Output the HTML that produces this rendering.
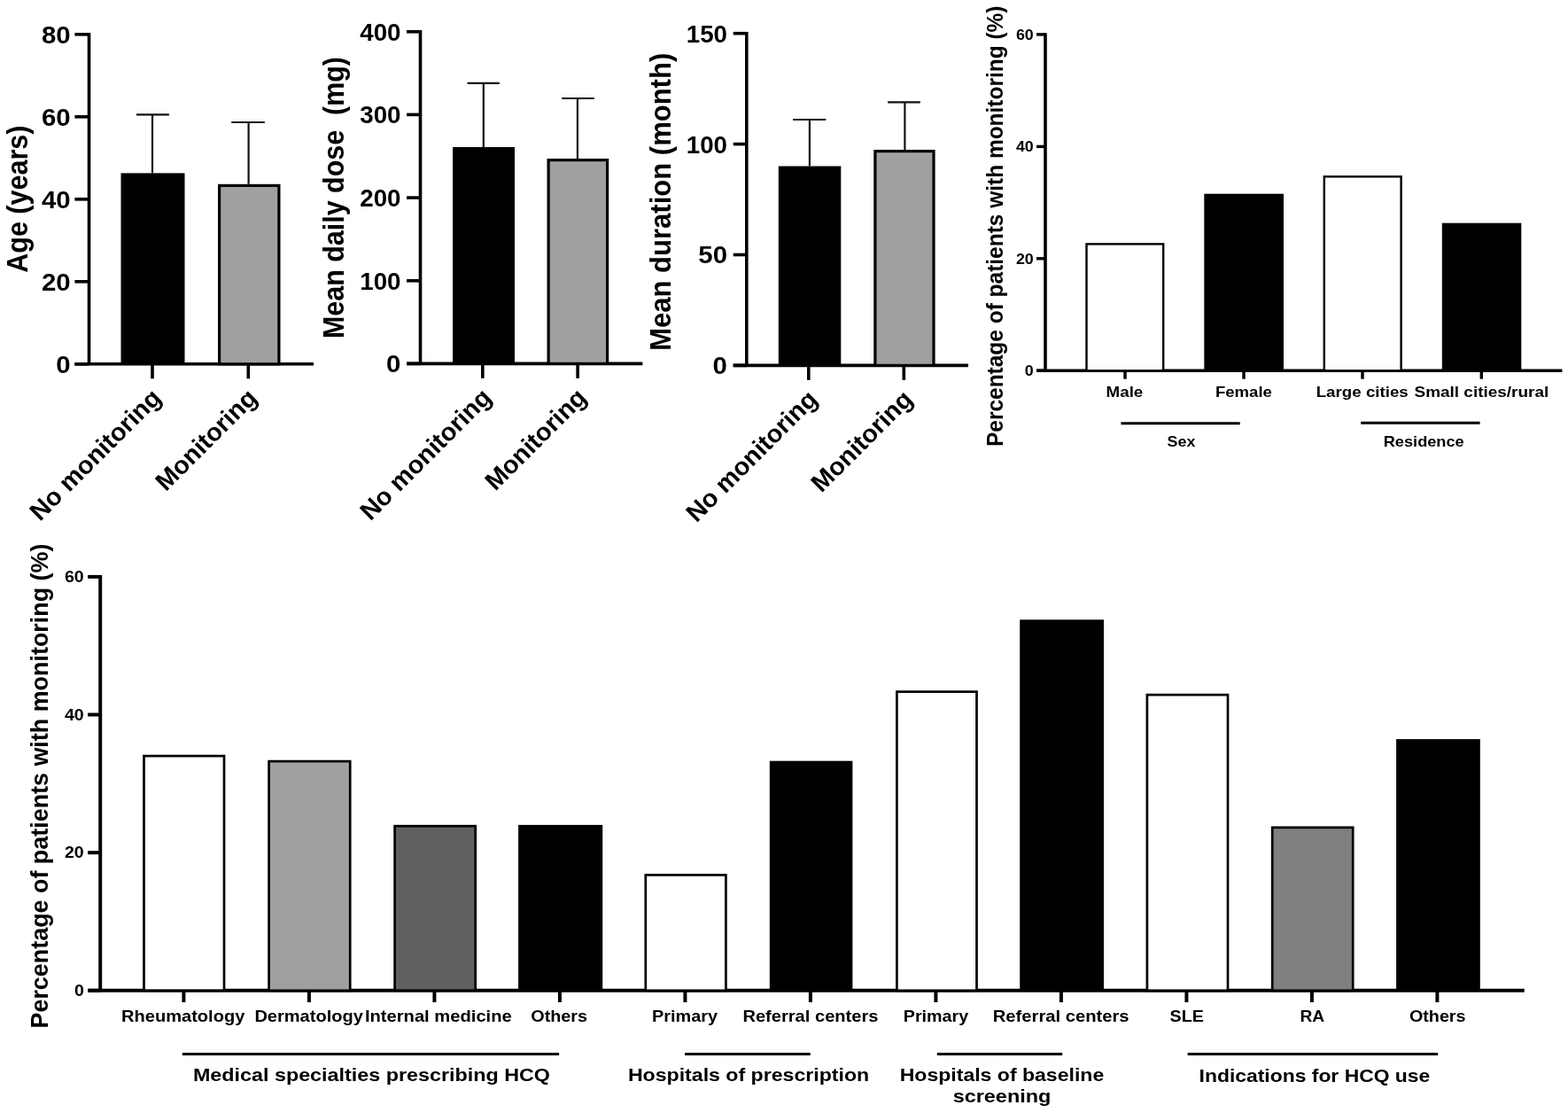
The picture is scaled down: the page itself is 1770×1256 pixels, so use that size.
<!DOCTYPE html>
<html><head><meta charset="utf-8"><title>Figure</title>
<style>html,body{margin:0;padding:0;background:#fff;overflow:hidden;}svg{display:block;}</style>
</head><body>
<svg width="1770" height="1256" viewBox="0 0 1770 1256" font-family="Liberation Sans, Arial, Helvetica, sans-serif" font-weight="bold">
<rect width="1770" height="1256" fill="#fff"/>
<line x1="84.4" y1="410.8" x2="354.0" y2="410.8" stroke="#000" stroke-width="3.6" stroke-linecap="butt"/>
<line x1="100.5" y1="37.0" x2="100.5" y2="410.8" stroke="#000" stroke-width="3.6" stroke-linecap="butt"/>
<line x1="84.4" y1="38.8" x2="100.5" y2="38.8" stroke="#000" stroke-width="3.6" stroke-linecap="butt"/>
<text x="46.94" y="48.73" font-size="28" textLength="32.70" lengthAdjust="spacingAndGlyphs">80</text>
<line x1="84.4" y1="131.8" x2="100.5" y2="131.8" stroke="#000" stroke-width="3.6" stroke-linecap="butt"/>
<text x="46.94" y="141.73" font-size="28" textLength="32.70" lengthAdjust="spacingAndGlyphs">60</text>
<line x1="84.4" y1="224.8" x2="100.5" y2="224.8" stroke="#000" stroke-width="3.6" stroke-linecap="butt"/>
<text x="46.94" y="234.73" font-size="28" textLength="32.70" lengthAdjust="spacingAndGlyphs">40</text>
<line x1="84.4" y1="317.8" x2="100.5" y2="317.8" stroke="#000" stroke-width="3.6" stroke-linecap="butt"/>
<text x="46.94" y="327.73" font-size="28" textLength="32.70" lengthAdjust="spacingAndGlyphs">20</text>
<line x1="84.4" y1="410.8" x2="100.5" y2="410.8" stroke="#000" stroke-width="3.6" stroke-linecap="butt"/>
<text x="63.22" y="420.73" font-size="28" textLength="16.35" lengthAdjust="spacingAndGlyphs">0</text>
<rect x="136.5" y="195.4" width="72.0" height="215.4" fill="#000"/>
<rect x="247.6" y="209.4" width="67.3" height="201.4" fill="#a0a0a0" stroke="#000" stroke-width="3.2"/>
<line x1="172.0" y1="129.4" x2="172.0" y2="195.4" stroke="#111" stroke-width="2.2"/>
<line x1="154.8" y1="129.4" x2="190.0" y2="129.4" stroke="#111" stroke-width="2.2" stroke-linecap="round"/>
<line x1="280.6" y1="138.0" x2="280.6" y2="207.8" stroke="#111" stroke-width="2.2"/>
<line x1="262.0" y1="138.0" x2="298.0" y2="138.0" stroke="#111" stroke-width="2.2" stroke-linecap="round"/>
<line x1="172.0" y1="410.8" x2="172.0" y2="427.3" stroke="#000" stroke-width="3.6" stroke-linecap="butt"/>
<line x1="280.3" y1="410.8" x2="280.3" y2="427.3" stroke="#000" stroke-width="3.6" stroke-linecap="butt"/>
<text transform="translate(31.00,307.80) scale(1.06,1) rotate(-90)" font-size="30.5" textLength="166.23" lengthAdjust="spacingAndGlyphs">Age (years)</text>
<text transform="translate(183.50,450.80) scale(1.0,1) rotate(-45)" font-size="28.6" text-anchor="end">No monitoring</text>
<text transform="translate(291.80,450.80) scale(1.0,1) rotate(-45)" font-size="28.6" text-anchor="end">Monitoring</text>
<line x1="459.0" y1="410.4" x2="725.4" y2="410.4" stroke="#000" stroke-width="3.6" stroke-linecap="butt"/>
<line x1="474.5" y1="34.0" x2="474.5" y2="410.4" stroke="#000" stroke-width="3.6" stroke-linecap="butt"/>
<line x1="459.0" y1="35.8" x2="474.5" y2="35.8" stroke="#000" stroke-width="3.6" stroke-linecap="butt"/>
<text x="406.27" y="45.73" font-size="28" textLength="46.25" lengthAdjust="spacingAndGlyphs">400</text>
<line x1="459.0" y1="129.4" x2="474.5" y2="129.4" stroke="#000" stroke-width="3.6" stroke-linecap="butt"/>
<text x="406.27" y="139.38" font-size="28" textLength="46.25" lengthAdjust="spacingAndGlyphs">300</text>
<line x1="459.0" y1="223.1" x2="474.5" y2="223.1" stroke="#000" stroke-width="3.6" stroke-linecap="butt"/>
<text x="406.27" y="233.03" font-size="28" textLength="46.25" lengthAdjust="spacingAndGlyphs">200</text>
<line x1="459.0" y1="316.8" x2="474.5" y2="316.8" stroke="#000" stroke-width="3.6" stroke-linecap="butt"/>
<text x="406.27" y="326.68" font-size="28" textLength="46.25" lengthAdjust="spacingAndGlyphs">100</text>
<line x1="459.0" y1="410.4" x2="474.5" y2="410.4" stroke="#000" stroke-width="3.6" stroke-linecap="butt"/>
<text x="436.12" y="420.33" font-size="28" textLength="16.35" lengthAdjust="spacingAndGlyphs">0</text>
<rect x="511.0" y="166.0" width="70.0" height="244.4" fill="#000"/>
<rect x="619.1" y="180.6" width="66.5" height="229.8" fill="#a0a0a0" stroke="#000" stroke-width="3.2"/>
<line x1="545.8" y1="93.9" x2="545.8" y2="166.0" stroke="#111" stroke-width="2.2"/>
<line x1="528.4" y1="93.9" x2="563.0" y2="93.9" stroke="#111" stroke-width="2.2" stroke-linecap="round"/>
<line x1="651.9" y1="111.0" x2="651.9" y2="179.0" stroke="#111" stroke-width="2.2"/>
<line x1="635.0" y1="111.0" x2="670.0" y2="111.0" stroke="#111" stroke-width="2.2" stroke-linecap="round"/>
<line x1="544.8" y1="410.4" x2="544.8" y2="426.9" stroke="#000" stroke-width="3.6" stroke-linecap="butt"/>
<line x1="652.1" y1="410.4" x2="652.1" y2="426.9" stroke="#000" stroke-width="3.6" stroke-linecap="butt"/>
<text transform="translate(387.50,382.00) scale(1.06,1) rotate(-90)" font-size="30.5" textLength="318.01" lengthAdjust="spacingAndGlyphs">Mean daily dose  (mg)</text>
<text transform="translate(556.30,450.40) scale(1.0,1) rotate(-45)" font-size="28.6" text-anchor="end">No monitoring</text>
<text transform="translate(663.60,450.40) scale(1.0,1) rotate(-45)" font-size="28.6" text-anchor="end">Monitoring</text>
<line x1="827.7" y1="412.4" x2="1093.0" y2="412.4" stroke="#000" stroke-width="3.6" stroke-linecap="butt"/>
<line x1="842.8" y1="35.9" x2="842.8" y2="412.4" stroke="#000" stroke-width="3.6" stroke-linecap="butt"/>
<line x1="827.7" y1="37.7" x2="842.8" y2="37.7" stroke="#000" stroke-width="3.6" stroke-linecap="butt"/>
<text x="774.77" y="47.63" font-size="28" textLength="46.25" lengthAdjust="spacingAndGlyphs">150</text>
<line x1="827.7" y1="162.6" x2="842.8" y2="162.6" stroke="#000" stroke-width="3.6" stroke-linecap="butt"/>
<text x="774.77" y="172.53" font-size="28" textLength="46.25" lengthAdjust="spacingAndGlyphs">100</text>
<line x1="827.7" y1="287.5" x2="842.8" y2="287.5" stroke="#000" stroke-width="3.6" stroke-linecap="butt"/>
<text x="788.35" y="297.43" font-size="28" textLength="32.70" lengthAdjust="spacingAndGlyphs">50</text>
<line x1="827.7" y1="412.4" x2="842.8" y2="412.4" stroke="#000" stroke-width="3.6" stroke-linecap="butt"/>
<text x="804.62" y="422.33" font-size="28" textLength="16.35" lengthAdjust="spacingAndGlyphs">0</text>
<rect x="878.8" y="187.5" width="70.5" height="224.9" fill="#000"/>
<rect x="987.9" y="170.6" width="66.1" height="241.8" fill="#a0a0a0" stroke="#000" stroke-width="3.2"/>
<line x1="913.9" y1="135.0" x2="913.9" y2="187.5" stroke="#111" stroke-width="2.2"/>
<line x1="896.0" y1="135.0" x2="931.4" y2="135.0" stroke="#111" stroke-width="2.2" stroke-linecap="round"/>
<line x1="1021.4" y1="115.4" x2="1021.4" y2="169.0" stroke="#111" stroke-width="2.2"/>
<line x1="1003.0" y1="115.4" x2="1038.0" y2="115.4" stroke="#111" stroke-width="2.2" stroke-linecap="round"/>
<line x1="912.8" y1="412.4" x2="912.8" y2="428.9" stroke="#000" stroke-width="3.6" stroke-linecap="butt"/>
<line x1="1020.3" y1="412.4" x2="1020.3" y2="428.9" stroke="#000" stroke-width="3.6" stroke-linecap="butt"/>
<text transform="translate(756.50,395.80) scale(1.06,1) rotate(-90)" font-size="30.8" textLength="336.03" lengthAdjust="spacingAndGlyphs">Mean duration (month)</text>
<text transform="translate(924.30,452.40) scale(1.0,1) rotate(-45)" font-size="28.6" text-anchor="end">No monitoring</text>
<text transform="translate(1031.80,452.40) scale(1.0,1) rotate(-45)" font-size="28.6" text-anchor="end">Monitoring</text>
<line x1="1170.0" y1="418.3" x2="1763.4" y2="418.3" stroke="#000" stroke-width="3.4" stroke-linecap="butt"/>
<line x1="1180.0" y1="37.2" x2="1180.0" y2="418.3" stroke="#000" stroke-width="3.6" stroke-linecap="butt"/>
<line x1="1170.0" y1="38.9" x2="1180.0" y2="38.9" stroke="#000" stroke-width="3.4" stroke-linecap="butt"/>
<text x="1146.93" y="44.75" font-size="16.5" textLength="19.82" lengthAdjust="spacingAndGlyphs">60</text>
<line x1="1170.0" y1="165.4" x2="1180.0" y2="165.4" stroke="#000" stroke-width="3.4" stroke-linecap="butt"/>
<text x="1146.93" y="171.22" font-size="16.5" textLength="19.82" lengthAdjust="spacingAndGlyphs">40</text>
<line x1="1170.0" y1="291.8" x2="1180.0" y2="291.8" stroke="#000" stroke-width="3.4" stroke-linecap="butt"/>
<text x="1146.93" y="297.68" font-size="16.5" textLength="19.82" lengthAdjust="spacingAndGlyphs">20</text>
<line x1="1170.0" y1="418.3" x2="1180.0" y2="418.3" stroke="#000" stroke-width="3.4" stroke-linecap="butt"/>
<text x="1156.86" y="424.15" font-size="16.5" textLength="9.91" lengthAdjust="spacingAndGlyphs">0</text>
<rect x="1226.5" y="275.4" width="86.7" height="142.9" fill="#fff" stroke="#000" stroke-width="2.4"/>
<rect x="1359.3" y="218.7" width="89.7" height="199.6" fill="#000"/>
<rect x="1494.8" y="199.3" width="86.8" height="219.0" fill="#fff" stroke="#000" stroke-width="2.4"/>
<rect x="1627.8" y="251.7" width="89.5" height="166.6" fill="#000"/>
<line x1="1270.0" y1="418.3" x2="1270.0" y2="427.7" stroke="#000" stroke-width="3.4" stroke-linecap="butt"/>
<line x1="1404.0" y1="418.3" x2="1404.0" y2="427.7" stroke="#000" stroke-width="3.4" stroke-linecap="butt"/>
<line x1="1538.0" y1="418.3" x2="1538.0" y2="427.7" stroke="#000" stroke-width="3.4" stroke-linecap="butt"/>
<line x1="1672.3" y1="418.3" x2="1672.3" y2="427.7" stroke="#000" stroke-width="3.4" stroke-linecap="butt"/>
<text x="1248.60" y="448.00" font-size="17" textLength="41.69" lengthAdjust="spacingAndGlyphs">Male</text>
<text x="1371.90" y="448.00" font-size="17" textLength="63.99" lengthAdjust="spacingAndGlyphs">Female</text>
<text x="1485.70" y="448.20" font-size="17" textLength="104.09" lengthAdjust="spacingAndGlyphs">Large cities</text>
<text x="1596.50" y="448.20" font-size="17" textLength="151.77" lengthAdjust="spacingAndGlyphs">Small cities/rural</text>
<line x1="1265.4" y1="477.8" x2="1399.7" y2="477.8" stroke="#000" stroke-width="3.0" stroke-linecap="butt"/>
<line x1="1536.2" y1="477.2" x2="1670.6" y2="477.2" stroke="#000" stroke-width="3.0" stroke-linecap="butt"/>
<text x="1317.60" y="503.60" font-size="17" textLength="31.85" lengthAdjust="spacingAndGlyphs">Sex</text>
<text x="1561.70" y="503.60" font-size="17" textLength="91.05" lengthAdjust="spacingAndGlyphs">Residence</text>
<text transform="translate(1132.30,504.00) scale(1.04,1) rotate(-90)" font-size="24.4" textLength="497.47" lengthAdjust="spacingAndGlyphs">Percentage of patients with monitoring (%)</text>
<line x1="100.0" y1="1117.8" x2="1720.7" y2="1117.8" stroke="#000" stroke-width="4.0" stroke-linecap="butt"/>
<line x1="113.2" y1="648.9" x2="113.2" y2="1117.8" stroke="#000" stroke-width="4.0" stroke-linecap="butt"/>
<line x1="99.1" y1="650.9" x2="113.2" y2="650.9" stroke="#000" stroke-width="4.0" stroke-linecap="butt"/>
<text x="72.96" y="657.10" font-size="17.5" textLength="21.80" lengthAdjust="spacingAndGlyphs">60</text>
<line x1="99.1" y1="806.5" x2="113.2" y2="806.5" stroke="#000" stroke-width="4.0" stroke-linecap="butt"/>
<text x="72.96" y="812.74" font-size="17.5" textLength="21.80" lengthAdjust="spacingAndGlyphs">40</text>
<line x1="99.1" y1="962.2" x2="113.2" y2="962.2" stroke="#000" stroke-width="4.0" stroke-linecap="butt"/>
<text x="72.96" y="968.37" font-size="17.5" textLength="21.80" lengthAdjust="spacingAndGlyphs">20</text>
<line x1="99.1" y1="1117.8" x2="113.2" y2="1117.8" stroke="#000" stroke-width="4.0" stroke-linecap="butt"/>
<text x="83.94" y="1124.00" font-size="17.5" textLength="10.90" lengthAdjust="spacingAndGlyphs">0</text>
<rect x="162.5" y="853.1" width="90.5" height="264.6" fill="#fff" stroke="#000" stroke-width="2.7"/>
<rect x="303.6" y="859.1" width="91.6" height="258.7" fill="#a0a0a0" stroke="#000" stroke-width="2.7"/>
<rect x="445.6" y="932.2" width="91.1" height="185.5" fill="#606060" stroke="#000" stroke-width="2.7"/>
<rect x="585.1" y="930.9" width="95.1" height="186.9" fill="#000"/>
<rect x="728.8" y="987.4" width="90.6" height="130.4" fill="#fff" stroke="#000" stroke-width="2.7"/>
<rect x="868.8" y="858.7" width="93.6" height="259.1" fill="#000"/>
<rect x="1012.4" y="780.6" width="90.1" height="337.2" fill="#fff" stroke="#000" stroke-width="2.7"/>
<rect x="1151.2" y="699.3" width="94.8" height="418.5" fill="#000"/>
<rect x="1294.9" y="784.1" width="91.1" height="333.7" fill="#fff" stroke="#000" stroke-width="2.7"/>
<rect x="1436.2" y="933.8" width="91.0" height="184.0" fill="#808080" stroke="#000" stroke-width="2.7"/>
<rect x="1576.1" y="834.1" width="94.7" height="283.7" fill="#000"/>
<line x1="207.4" y1="1117.8" x2="207.4" y2="1131.0" stroke="#000" stroke-width="4.0" stroke-linecap="butt"/>
<line x1="348.9" y1="1117.8" x2="348.9" y2="1131.0" stroke="#000" stroke-width="4.0" stroke-linecap="butt"/>
<line x1="490.4" y1="1117.8" x2="490.4" y2="1131.0" stroke="#000" stroke-width="4.0" stroke-linecap="butt"/>
<line x1="631.9" y1="1117.8" x2="631.9" y2="1131.0" stroke="#000" stroke-width="4.0" stroke-linecap="butt"/>
<line x1="773.4" y1="1117.8" x2="773.4" y2="1131.0" stroke="#000" stroke-width="4.0" stroke-linecap="butt"/>
<line x1="914.9" y1="1117.8" x2="914.9" y2="1131.0" stroke="#000" stroke-width="4.0" stroke-linecap="butt"/>
<line x1="1056.4" y1="1117.8" x2="1056.4" y2="1131.0" stroke="#000" stroke-width="4.0" stroke-linecap="butt"/>
<line x1="1197.9" y1="1117.8" x2="1197.9" y2="1131.0" stroke="#000" stroke-width="4.0" stroke-linecap="butt"/>
<line x1="1339.4" y1="1117.8" x2="1339.4" y2="1131.0" stroke="#000" stroke-width="4.0" stroke-linecap="butt"/>
<line x1="1480.9" y1="1117.8" x2="1480.9" y2="1131.0" stroke="#000" stroke-width="4.0" stroke-linecap="butt"/>
<line x1="1622.4" y1="1117.8" x2="1622.4" y2="1131.0" stroke="#000" stroke-width="4.0" stroke-linecap="butt"/>
<text x="137.00" y="1152.90" font-size="19" textLength="139.35" lengthAdjust="spacingAndGlyphs">Rheumatology</text>
<text x="287.40" y="1152.90" font-size="19" textLength="122.44" lengthAdjust="spacingAndGlyphs">Dermatology</text>
<text x="411.90" y="1152.90" font-size="19" textLength="165.86" lengthAdjust="spacingAndGlyphs">Internal medicine</text>
<text x="599.30" y="1152.90" font-size="19" textLength="63.74" lengthAdjust="spacingAndGlyphs">Others</text>
<text x="736.10" y="1152.90" font-size="19" textLength="73.97" lengthAdjust="spacingAndGlyphs">Primary</text>
<text x="838.40" y="1152.90" font-size="19" textLength="153.09" lengthAdjust="spacingAndGlyphs">Referral centers</text>
<text x="1019.80" y="1152.90" font-size="19" textLength="73.37" lengthAdjust="spacingAndGlyphs">Primary</text>
<text x="1120.80" y="1152.90" font-size="19" textLength="153.69" lengthAdjust="spacingAndGlyphs">Referral centers</text>
<text x="1320.60" y="1152.90" font-size="19" textLength="38.15" lengthAdjust="spacingAndGlyphs">SLE</text>
<text x="1467.50" y="1152.90" font-size="19" textLength="27.74" lengthAdjust="spacingAndGlyphs">RA</text>
<text x="1590.90" y="1152.90" font-size="19" textLength="63.64" lengthAdjust="spacingAndGlyphs">Others</text>
<line x1="205.8" y1="1189.5" x2="631.1" y2="1189.5" stroke="#000" stroke-width="3.2" stroke-linecap="butt"/>
<line x1="773.0" y1="1189.5" x2="914.7" y2="1189.5" stroke="#000" stroke-width="3.2" stroke-linecap="butt"/>
<line x1="1057.8" y1="1189.5" x2="1199.2" y2="1189.5" stroke="#000" stroke-width="3.2" stroke-linecap="butt"/>
<line x1="1340.6" y1="1189.5" x2="1623.1" y2="1189.5" stroke="#000" stroke-width="3.2" stroke-linecap="butt"/>
<text x="217.90" y="1219.60" font-size="20.5" textLength="403.12" lengthAdjust="spacingAndGlyphs">Medical specialties prescribing HCQ</text>
<text x="708.90" y="1220.20" font-size="20.5" textLength="272.27" lengthAdjust="spacingAndGlyphs">Hospitals of prescription</text>
<text x="1015.70" y="1220.20" font-size="20.5" textLength="230.54" lengthAdjust="spacingAndGlyphs">Hospitals of baseline</text>
<text x="1075.70" y="1243.70" font-size="20.5" textLength="110.65" lengthAdjust="spacingAndGlyphs">screening</text>
<text x="1353.60" y="1221.00" font-size="20.5" textLength="260.70" lengthAdjust="spacingAndGlyphs">Indications for HCQ use</text>
<text transform="translate(54.00,1160.50) scale(1.04,1) rotate(-90)" font-size="26.8" textLength="546.96" lengthAdjust="spacingAndGlyphs">Percentage of patients with monitoring (%)</text>
</svg>
</body></html>
